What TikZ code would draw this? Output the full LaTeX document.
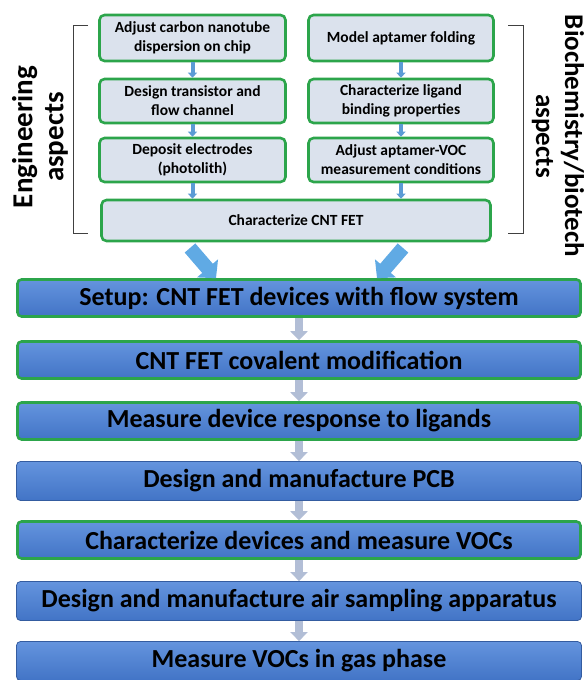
\documentclass[tikz,border=0pt]{standalone}
\usepackage{fontspec}
\setmainfont{Carlito}
\usetikzlibrary{positioning}
\usetikzlibrary{arrows.meta}

\definecolor{boxgreen}{RGB}{44,165,75}
\definecolor{topfill}{RGB}{219,226,237}
\definecolor{bluetop}{RGB}{100,148,222}
\definecolor{bluebot}{RGB}{66,116,198}
\definecolor{blueedge}{RGB}{52,92,160}
\definecolor{tinyarrow}{RGB}{91,155,213}
\definecolor{bigarrow}{RGB}{96,170,228}
\definecolor{steparrow}{RGB}{178,190,214}

\begin{document}
\begin{tikzpicture}[x=1pt,y=-1pt,
	topbox/.style={draw=boxgreen,line width=2.6pt,rounded corners=5pt,fill=topfill,
		align=center,inner sep=0pt,font=\bfseries\fontsize{15.5}{19}\selectfont},
	mainbox/.style={line width=2.6pt,rounded corners=4pt,top color=bluetop,bottom color=bluebot,
		minimum width=563pt,minimum height=37pt,inner sep=0pt,
		font=\bfseries\fontsize{26}{28}\selectfont},
	greenbox/.style={mainbox,draw=boxgreen},
	plainbox/.style={mainbox,draw=blueedge,line width=0.8pt,minimum width=565pt,minimum height=39pt},
	tiny/.style={tinyarrow,line width=4pt,-{Triangle[length=5pt,width=9pt]}},
	stepdown/.style={steparrow,line width=8pt,-{Triangle[length=9pt,width=17pt]}},
	slant/.style={bigarrow,line width=14pt,-{Triangle[length=13pt,width=27pt]}},
	side/.style={align=center,font=\bfseries\fontsize{29}{31}\selectfont},
	]
	\useasboundingbox (0,0) rectangle (587,680);

	% engineering column
	\node[topbox,minimum width=186pt,minimum height=46pt] (disp) at (192.5,38) {Adjust carbon nanotube\\dispersion on chip};
	\node[topbox,minimum width=186pt,minimum height=44pt] (trans) at (192.5,101) {Design transistor and\\flow channel};
	\node[topbox,minimum width=186pt,minimum height=44pt] (elec) at (192.5,160) {Deposit electrodes\\(photolith)};

	% biochemistry column
	\node[topbox,minimum width=185pt,minimum height=46pt] (fold) at (401,38) {Model aptamer folding};
	\node[topbox,minimum width=185pt,minimum height=44pt] (lig) at (401,101) {Characterize ligand\\binding properties};
	\node[topbox,minimum width=185pt,minimum height=44pt] (cond) at (401,160) {Adjust aptamer-VOC\\measurement conditions};

	\node[topbox,minimum width=389pt,minimum height=41pt] (fet) at (296,220.5) {Characterize CNT FET};

	\draw[tiny] (disp) -- (trans);
	\draw[tiny] (trans) -- (elec);
	\draw[tiny] (elec.south) -- (elec.south |- fet.north);
	\draw[tiny] (fold) -- (lig);
	\draw[tiny] (lig) -- (cond);
	\draw[tiny] (cond.south) -- (cond.south |- fet.north);

	% brackets and side labels
	\draw[line width=1pt,black!75] (88,25) -- (73,25) -- (73,233) -- (88,233);
	\draw[line width=1pt,black!75] (508,25) -- (523,25) -- (523,233) -- (508,233);
	\node[side,rotate=90] (eng) at (40,137) {Engineering\\aspects};
	\node[side,rotate=-90,font=\bfseries\fontsize{27}{29}\selectfont] (bio) at (558,136) {Biochemistry/biotech\\aspects};

	% main flow
	\node[greenbox] (setup) at (299,298) {Setup: CNT FET devices with flow system};
	\node[greenbox] (cov) at (299,360) {CNT FET covalent modification};
	\node[greenbox] (resp) at (299,421) {Measure device response to ligands};
	\node[plainbox] (pcb) at (299,481) {Design and manufacture PCB};
	\node[greenbox] (vocs) at (299,540) {Characterize devices and measure VOCs};
	\node[plainbox] (air) at (299,601) {Design and manufacture air sampling apparatus};
	\node[plainbox] (gas) at (299,661) {Measure VOCs in gas phase};

	\coordinate (ltail) at (190,248);
	\coordinate (rtail) at (403,248);
	\draw[slant] (ltail) -- (setup.north -| 216,0);
	\draw[slant] (rtail) -- (setup.north -| 377,0);

	\draw[stepdown] (setup) -- (cov);
	\draw[stepdown] (cov) -- (resp);
	\draw[stepdown] (resp) -- (pcb);
	\draw[stepdown] (pcb) -- (vocs);
	\draw[stepdown] (vocs) -- (air);
	\draw[stepdown] (air) -- (gas);
\end{tikzpicture}
\end{document}
